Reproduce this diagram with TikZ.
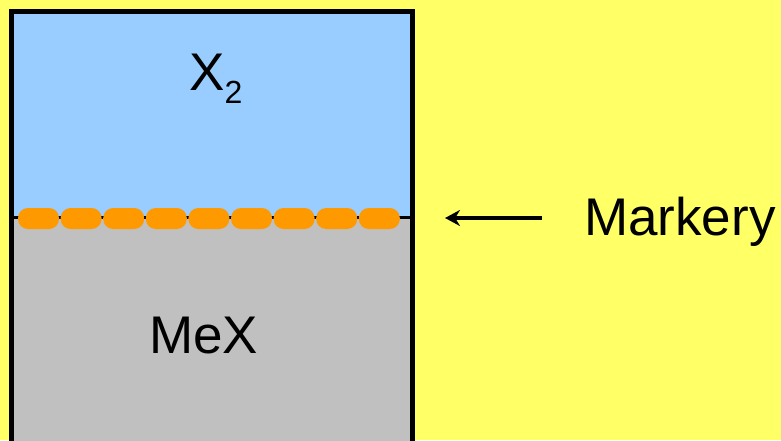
\documentclass[tikz,border=0pt]{standalone}
\usepackage{fontspec}
\setmainfont{Liberation Sans}
\usetikzlibrary{arrows.meta, positioning}
\definecolor{bgyellow}{RGB}{255,255,102}
\definecolor{gasblue}{RGB}{153,204,255}
\definecolor{solidgray}{RGB}{192,192,192}
\definecolor{markorange}{RGB}{255,153,0}

\begin{document}
\begin{tikzpicture}[x=1pt, y=-1pt, >=Stealth,
    label/.style={inner sep=0pt, font=\fontsize{53}{53}\selectfont},
    marker/.style={fill=markorange, rectangle, rounded corners=10pt, minimum width=41pt, minimum height=21pt, inner sep=0pt}]

    % Background
    \fill[bgyellow] (0,0) rectangle (781,440);
    \useasboundingbox (0,0) rectangle (781,440);

    % Gas layer and solid
    \fill[gasblue] (11.5,11.5) rectangle (412,217);
    \fill[solidgray] (11.5,217) rectangle (412,450);
    \draw[line width=5pt] (11.5,450) -- (11.5,11.5) -- (412,11.5) -- (412,450);
    \draw[line width=3pt] (11.5,217) -- (412,217);

    % Labels
    \node[label, anchor=base west] (gas) at (189,90) {X\raisebox{-13pt}{\fontsize{32}{32}\selectfont 2}};
    \node[label, anchor=base west] (solid) at (149,353) {MeX};

    % Markers on the boundary
    \foreach \i in {1,...,9}
        \node[marker] (m\i) at ({38.5+42.6*(\i-1)},218.5) {};

    % Pointer
    \node[label, anchor=base west] (markery) at (584,235) {Markery};
    \coordinate (tip) at (445,218);
    \draw[->, line width=4pt, shorten <=42pt, arrows={-Stealth[length=15pt, width=16pt]}] (markery.west |- tip) -- (tip);
\end{tikzpicture}
\end{document}
